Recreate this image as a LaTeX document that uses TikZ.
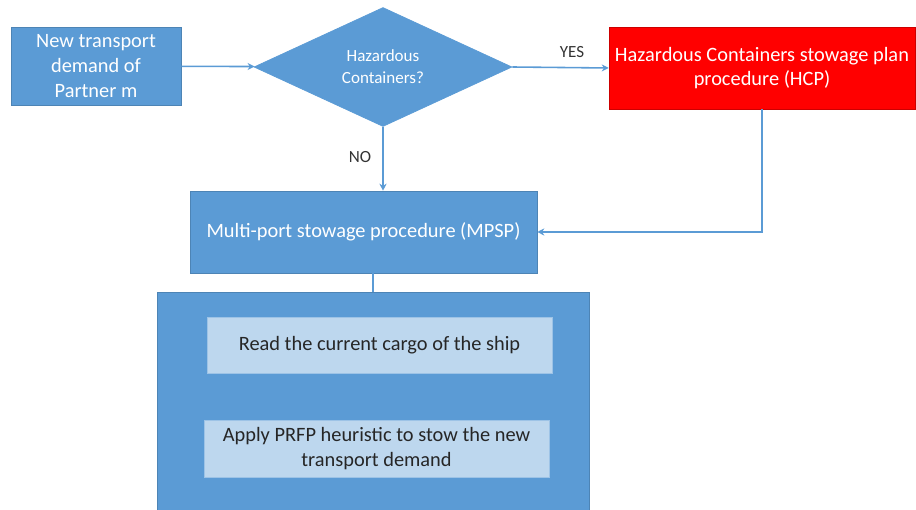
\documentclass[tikz,border=0pt]{standalone}
\usepackage{fontspec}
\setmainfont{Carlito}
\usetikzlibrary{arrows.meta,shapes.geometric,positioning}
\definecolor{boxblue}{HTML}{5B9BD5}
\definecolor{lightblue}{HTML}{BDD7EE}
\definecolor{hazred}{HTML}{FF0000}
\tikzset{
    process/.style={
    rectangle,draw=boxblue!85!black,line width=0.3pt,fill=boxblue,text=white,align=center,font=\fontsize{11.6}{14}\selectfont
    },
    decision/.style={
    diamond,draw=boxblue,fill=boxblue,text=white,align=center,inner sep=0pt,font=\fontsize{9.7}{12.5}\selectfont
    },
    hazard/.style={
    rectangle,draw=hazred!80!black,line width=0.3pt,fill=hazred,text=white,align=center,font=\fontsize{11.6}{14}\selectfont
    },
    task/.style={
    rectangle,draw=boxblue!60!white,line width=0.3pt,fill=lightblue,text=black!85,align=center,font=\fontsize{11.6}{14}\selectfont
    },
    flow/.style={
    draw=boxblue,line width=0.9pt,-{Stealth[length=4pt,width=4pt]}
    },
    answer/.style={
    text=black!80,font=\fontsize{9.7}{12}\selectfont
    },
}
\begin{document}
\begin{tikzpicture}
   \useasboundingbox (0,0) rectangle (18.32,-10.2);
   \node[process,minimum width=3.4cm,minimum height=1.56cm] (demand) at (1.92,-1.32) {New transport\\demand of\\Partner m};
   \node[decision,minimum width=5.16cm,minimum height=2.38cm] (haz) at (7.66,-1.34) {Hazardous\\Containers?};
   \node[hazard,minimum width=6.12cm,minimum height=1.64cm] (HCP) at (15.24,-1.36) {Hazardous Containers stowage plan\\procedure (HCP)};
   \node[process,minimum width=6.94cm,minimum height=1.64cm] (MPSP) at (7.27,-4.64) {Multi-port stowage procedure (MPSP)};
   \node[process,minimum width=8.64cm,minimum height=4.36cm] (frame) at (7.46,-8.02) {};
   \node[task,minimum width=6.9cm,minimum height=1.12cm] (read) at (7.59,-6.9) {Read the current cargo of the ship};
   \node[task,minimum width=6.9cm,minimum height=1.14cm] (PRFP) at (7.53,-8.97) {Apply PRFP heuristic to stow the new\\transport demand};
   \node[answer] (yes) at (11.44,-1.04) {YES};
   \node[answer] (no) at (7.2,-3.14) {NO};

  \path
    (demand) edge[flow] (haz)
    (haz.east) edge[flow] (HCP.west)
    (haz.south) edge[flow] (haz.south |- MPSP.north);
  \draw[flow] (HCP.south) |- (MPSP.east);
  \draw[boxblue,line width=0.9pt] (MPSP.south -| frame.north) -- (frame.north);
\end{tikzpicture}
\end{document}
